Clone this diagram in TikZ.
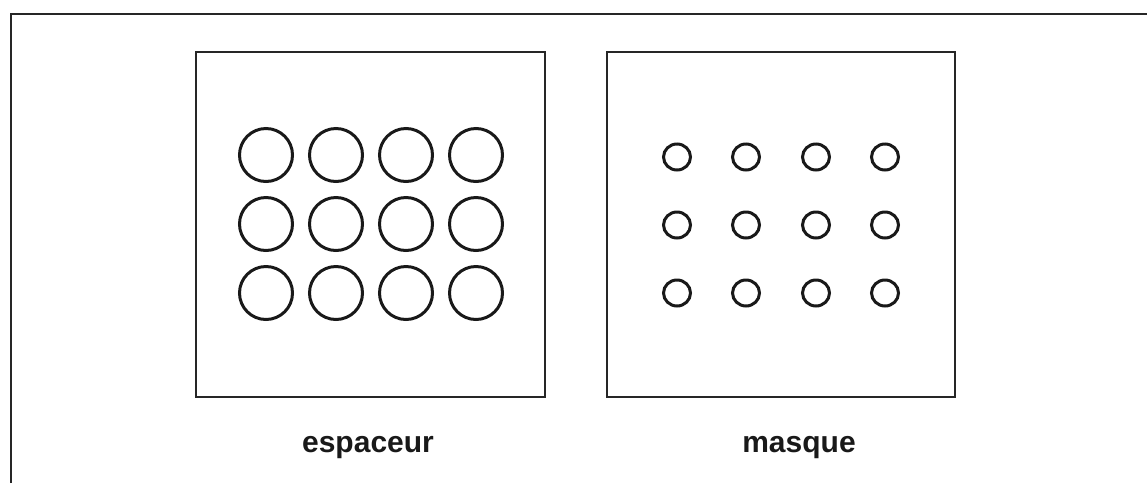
\documentclass[tikz,border=0pt]{standalone}
\usepackage{fontspec}
\setmainfont{Liberation Sans}
\begin{document}
\begin{tikzpicture}[x=1pt,y=-1pt,
  frame/.style={draw=black!85, line width=1.5pt},
  panel/.style={draw=black!85, line width=2pt},
  bigring/.style={draw=black!90, line width=3pt},
  smallring/.style={draw=black!90, line width=3pt},
  caption/.style={font=\fontsize{30}{32}\selectfont\bfseries, text=black!90, inner sep=0pt, anchor=base}]
\useasboundingbox (0,0) rectangle (1147,483);
% outer frame (top and left edges)
\draw[frame] (11,483) -- (11,14) -- (1147,14);
% panels
\draw[panel] (196,52) rectangle (545,397);
\draw[panel] (607,52) rectangle (955,397);
% big rings
\foreach \x in {266,336,406,476}
  \foreach \y in {155,224,293}
    \draw[bigring] (\x,\y) circle (26.5);
% small rings
\foreach \x in {677,746,816,885}
  \foreach \y in {157,225,293}
    \draw[smallring] (\x,\y) ellipse (13.5 and 13);
% captions
\node[caption] (esp) at (368,452) {espaceur};
\node[caption] (mas) at (799,452) {masque};
\end{tikzpicture}
\end{document}
